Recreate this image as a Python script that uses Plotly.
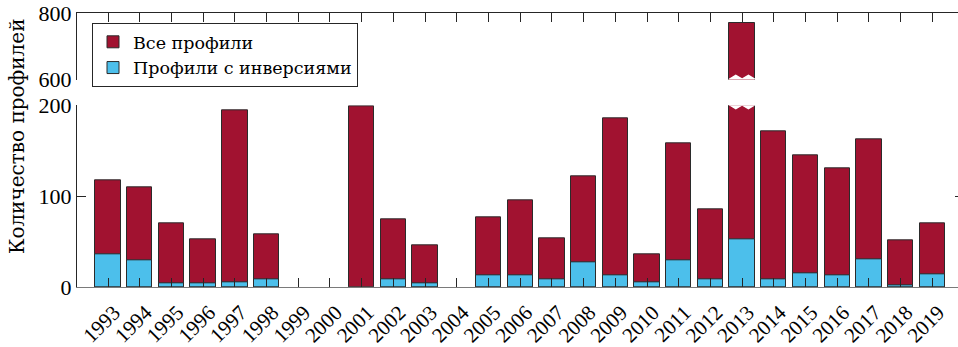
import plotly.graph_objects as go

years = list(range(1993, 2020))
all_profiles = [117, 110, 70, 52, 195, 58, 0, 0, 199, 75, 46, 0, 77, 95, 54, 122,
                186, 36, 158, 86, 770, 171, 145, 131, 163, 51, 70]
inv_profiles = [36, 29, 4, 4, 5, 8, 0, 0, 0, 9, 4, 0, 13, 13, 8, 27,
                13, 5, 29, 9, 52, 8, 15, 13, 31, 2, 14]
break_year = 2013
name_all = "Все профили"
name_inv = "Профили с инверсиями"
y_title = "Количество профилей"
low_range = [0, 200]
high_range = [600, 800]

RED = "#A11230"
BLUE = "#4CBFEB"
EDGE = "#2b2b2b"
AX = "#262626"
FONT = "'Liberation Serif', 'DejaVu Serif', serif"
CYR_FONT = "'DejaVu Serif', serif"
BW = 0.8

def edge_widths(vals):
    return [1 if v > 0 else 0 for v in vals]

fig = go.Figure()
fig.add_trace(go.Bar(x=years, y=all_profiles, name=name_all,
                     marker=dict(color=RED, line=dict(color=EDGE, width=edge_widths(all_profiles))),
                     width=BW, xaxis="x", yaxis="y"))
fig.add_trace(go.Bar(x=years, y=inv_profiles, name=name_inv,
                     marker=dict(color=BLUE, line=dict(color=EDGE, width=edge_widths(inv_profiles))),
                     width=BW, xaxis="x", yaxis="y"))
fig.add_trace(go.Bar(x=years, y=all_profiles, name=name_all, showlegend=False,
                     marker=dict(color=RED, line=dict(color=EDGE, width=edge_widths(all_profiles))),
                     width=BW, xaxis="x2", yaxis="y2"))
fig.add_trace(go.Scatter(x=[], y=[], xaxis="x", yaxis="y3", showlegend=False, hoverinfo="skip"))
fig.add_trace(go.Scatter(x=[], y=[], xaxis="x2", yaxis="y4", showlegend=False, hoverinfo="skip"))

W, H = 958, 347
ml, mr, mt, mb = 77, 0, 13, 58
ph = H - mt - mb
low_top_px = 106
high_bot_px = 80
low_dom = [0, (H - mb - low_top_px) / ph]
high_dom = [(H - mb - high_bot_px) / ph, 1]
xr = [1992.02, 2019.81]

tickfont = dict(family=FONT, size=22, color="black")
common_x = dict(range=xr, tickvals=years, ticks="inside", ticklen=9, tickcolor=AX,
                showgrid=False, zeroline=False, showline=True, linewidth=1)
fig.update_layout(
    width=W, height=H, margin=dict(l=ml, r=mr, t=mt, b=mb),
    paper_bgcolor="white", plot_bgcolor="white",
    barmode="overlay", bargap=0,
    font=dict(family=FONT, color="black"),
    xaxis=dict(**common_x, anchor="y", linecolor="#7a7a7a", tickangle=-45,
               tickfont=dict(family=FONT, size=21, color="black"),
               ticklabelstandoff=4, ticklabelshift=6),
    xaxis2=dict(**common_x, anchor="y2", side="top", matches="x", linecolor=AX, showticklabels=False),
    yaxis=dict(domain=low_dom, range=low_range, tickvals=[0, 100, 200], ticks="inside", ticklen=9,
               tickcolor=AX, showline=True, linecolor=AX, linewidth=1, showgrid=False, zeroline=False,
               tickfont=tickfont, anchor="x"),
    yaxis2=dict(domain=high_dom, range=high_range, tickvals=[600, 800], ticks="inside", ticklen=9,
                tickcolor=AX, showline=True, linecolor=AX, linewidth=1, showgrid=False, zeroline=False,
                tickfont=tickfont, anchor="x2"),
    yaxis3=dict(overlaying="y", side="right", anchor="x", range=low_range, tickvals=[0, 100, 200],
                ticks="inside", ticklen=3, tickcolor=AX, showticklabels=False, showgrid=False,
                zeroline=False, showline=False),
    yaxis4=dict(overlaying="y2", side="right", anchor="x2", range=high_range, tickvals=[600, 800],
                ticks="inside", ticklen=3, tickcolor=AX, showticklabels=False, showgrid=False,
                zeroline=False, showline=False),
    legend=dict(x=(92 - ml) / (W - ml - mr), y=(H - mb - 23) / ph, xanchor="left", yanchor="top",
                bgcolor="white", bordercolor=AX, borderwidth=1,
                font=dict(family=CYR_FONT, size=17.5, color="black"), tracegroupgap=0, itemwidth=30),
    showlegend=True,
)

fig.add_annotation(text=y_title, textangle=-90, xref="paper", yref="paper",
                   x=(17 - ml) / (W - ml - mr), y=(H - mb - 137) / ph, xanchor="center", yanchor="middle",
                   showarrow=False, font=dict(family=CYR_FONT, size=20, color="black"))

x0, x1 = break_year - BW / 2, break_year + BW / 2
w = x1 - x0
up_h = 15
lo_h = 4.5
hb = high_range[0]
lt = low_range[1]
path_up = (f"M {x0-0.02},{hb} L {x0-0.02},{hb+2} L {x0+w/4},{hb+up_h} L {x0+w/2},{hb+4} "
           f"L {x0+3*w/4},{hb+up_h} L {x1+0.02},{hb+2} L {x1+0.02},{hb} Z")
path_lo = (f"M {x0-0.02},{lt+3} L {x0-0.02},{lt} L {x0+w/4},{lt-lo_h} L {x0+w/2},{lt-0.5} "
           f"L {x0+3*w/4},{lt-lo_h} L {x1+0.02},{lt} L {x1+0.02},{lt+3} Z")
fig.add_shape(type="path", path=path_up, xref="x2", yref="y2", fillcolor="white", line=dict(width=0), layer="above")
fig.add_shape(type="path", path=path_lo, xref="x", yref="y", fillcolor="white", line=dict(width=0), layer="above")

fig.write_html("out.html")
